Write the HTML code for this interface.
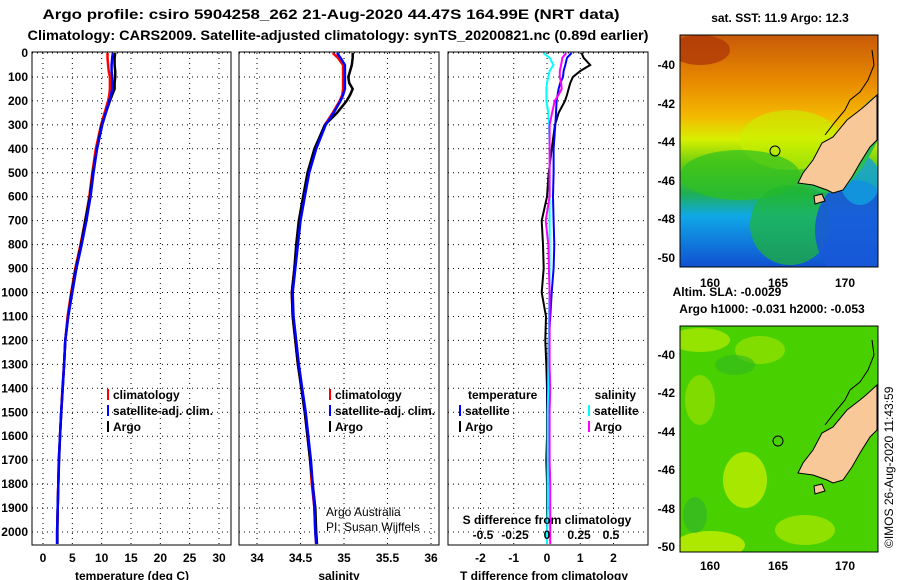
<!DOCTYPE html>
<html><head><meta charset="utf-8"><style>
html,body{margin:0;padding:0;background:#fff;}
svg{display:block;font-family:"Liberation Sans",sans-serif;font-weight:bold;}
</style></head><body>
<svg id="fig" width="900" height="580" viewBox="0 0 900 580">
<defs>
<linearGradient id="sstg" x1="0" y1="0" x2="0" y2="1">
<stop offset="0" stop-color="#c85a08"/><stop offset="0.2" stop-color="#e88a00"/><stop offset="0.35" stop-color="#f4b800"/>
<stop offset="0.45" stop-color="#d8f000"/><stop offset="0.55" stop-color="#70d010"/><stop offset="0.68" stop-color="#20b050"/>
<stop offset="0.78" stop-color="#10a8e8"/><stop offset="1" stop-color="#1050d0"/></linearGradient>
<clipPath id="c1"><rect x="680" y="35" width="198" height="232"/></clipPath>
<clipPath id="c2"><rect x="680" y="326" width="198" height="226"/></clipPath>
</defs>
<text x="331" y="19" text-anchor="middle" font-size="14" textLength="577" lengthAdjust="spacingAndGlyphs">Argo profile: csiro 5904258_262 21-Aug-2020 44.47S 164.99E (NRT data)</text>
<text x="338" y="40" text-anchor="middle" font-size="14" textLength="621" lengthAdjust="spacingAndGlyphs">Climatology: CARS2009. Satellite-adjusted climatology: synTS_20200821.nc (0.89d earlier)</text>
<g id="p1"></g>
<g id="p2"></g>
<g id="p3"></g>

<g>
<text x="780" y="22" text-anchor="middle" font-size="12">sat. SST: 11.9 Argo: 12.3</text>
<g clip-path="url(#c1)">
<rect x="680" y="35" width="198" height="232" fill="url(#sstg)"/>
<ellipse cx="700" cy="50" rx="30" ry="15" fill="#b03a08" opacity="0.8"/>
<ellipse cx="790" cy="140" rx="50" ry="30" fill="#c8f000" opacity="0.6"/>
<ellipse cx="740" cy="175" rx="60" ry="25" fill="#30c020" opacity="0.7"/>
<ellipse cx="790" cy="225" rx="40" ry="40" fill="#20b830" opacity="0.7"/>
<ellipse cx="855" cy="230" rx="40" ry="50" fill="#1858d8" opacity="0.9"/>
<ellipse cx="860" cy="180" rx="20" ry="25" fill="#10a0e0" opacity="0.8"/>
<polygon points="877,142 870,155 862,168 852,180 843,190 833,193 820,192 810,187 798,183 803,173 813,160 822,143 833,137 847,120 860,110 870,100 877,95" fill="#28c050" stroke="#000" stroke-width="0"/>
<polygon points="877,95 866,105 860,110 847,120 833,137 822,143 813,160 803,173 798,183 813,185 827,190 833,193 843,190 852,177 860,163 870,147 877,140" fill="#f8c898" stroke="#000" stroke-width="1"/>
<polyline points="872,50 874,65 868,80 860,92 850,100 845,110 835,122 825,135" fill="none" stroke="#000" stroke-width="1"/>
<polygon points="814,196 822,194 825,201 815,204" fill="#f8c898" stroke="#000" stroke-width="1"/>
</g>
<rect x="680" y="35" width="198" height="232" fill="none" stroke="#000"/>
<circle cx="775" cy="151" r="5" fill="none" stroke="#000"/>
<g font-size="12" text-anchor="end">
<text x="675" y="69">-40</text><text x="675" y="108">-42</text><text x="675" y="146">-44</text><text x="675" y="185">-46</text><text x="675" y="223">-48</text><text x="675" y="262">-50</text>
</g>
<g font-size="12" text-anchor="middle">
<text x="710" y="287">160</text><text x="778" y="287">165</text><text x="845" y="287">170</text>
</g>
<text x="727" y="296" text-anchor="middle" font-size="12">Altim. SLA: -0.0029</text>
<text x="772" y="313" text-anchor="middle" font-size="12">Argo h1000: -0.031 h2000: -0.053</text>
</g>

<g>
<g clip-path="url(#c2)">
<rect x="680" y="326" width="198" height="226" fill="#48d000"/>
<ellipse cx="700" cy="340" rx="30" ry="12" fill="#a8e800" opacity="0.8"/>
<ellipse cx="760" cy="350" rx="25" ry="14" fill="#90e000" opacity="0.8"/>
<ellipse cx="700" cy="400" rx="15" ry="25" fill="#98e000" opacity="0.7"/>
<ellipse cx="745" cy="480" rx="22" ry="28" fill="#c0ec00" opacity="0.8"/>
<ellipse cx="710" cy="545" rx="35" ry="14" fill="#c8ee00" opacity="0.8"/>
<ellipse cx="805" cy="530" rx="30" ry="15" fill="#b0e800" opacity="0.7"/>
<ellipse cx="735" cy="365" rx="20" ry="10" fill="#30b820" opacity="0.6"/>
<ellipse cx="695" cy="515" rx="12" ry="18" fill="#30b030" opacity="0.6"/>
<polygon points="877,385 866,395 860,400 847,410 833,427 822,433 813,450 803,463 798,473 813,475 827,480 833,483 843,480 852,467 860,453 870,437 877,430" fill="#f8c898" stroke="#000" stroke-width="1"/>
<polyline points="872,340 874,355 868,370 860,382 850,390 845,400 835,412 825,425" fill="none" stroke="#000" stroke-width="1"/>
<polygon points="814,486 822,484 825,491 815,494" fill="#f8c898" stroke="#000" stroke-width="1"/>
</g>
<rect x="680" y="326" width="198" height="226" fill="none" stroke="#000"/>
<circle cx="778" cy="441" r="5" fill="none" stroke="#000"/>
<g font-size="12" text-anchor="end">
<text x="675" y="359">-40</text><text x="675" y="397">-42</text><text x="675" y="436">-44</text><text x="675" y="474">-46</text><text x="675" y="513">-48</text><text x="675" y="551">-50</text>
</g>
<g font-size="12" text-anchor="middle">
<text x="710" y="570">160</text><text x="778" y="570">165</text><text x="845" y="570">170</text>
</g>
<text transform="translate(893,548) rotate(-90)" font-size="12" font-weight="normal">©IMOS 26-Aug-2020 11:43:59</text>
</g>
</svg>
<script>
const depths = [0,20,50,75,100,125,150,175,200,250,300,400,500,600,700,800,900,1000,1100,1200,1300,1400,1500,1600,1700,1800,1900,2000,2050];
const tempArgo = [12.3,12.2,12.2,12.3,12.3,12.2,12.2,11.8,11.4,10.7,10.0,9.2,8.5,8.0,7.2,6.5,5.6,4.9,4.3,3.8,3.6,3.35,3.1,2.9,2.75,2.6,2.5,2.45,2.45];
const tempClim = [11.0,11.0,11.1,11.2,11.4,11.4,11.4,11.3,11.1,10.5,9.9,9.0,8.4,7.9,7.2,6.4,5.5,4.8,4.2,3.8,3.6,3.3,3.1,2.9,2.7,2.6,2.5,2.4,2.4];
const tempSat = [11.9,11.8,11.7,11.7,11.8,11.8,11.8,11.6,11.3,10.7,10.1,9.2,8.6,8.1,7.4,6.6,5.7,5.0,4.3,3.8,3.6,3.35,3.1,2.9,2.7,2.6,2.5,2.4,2.4];
const salArgo = [35.10,35.10,35.09,35.07,35.05,35.06,35.10,35.07,35.03,34.92,34.78,34.66,34.58,34.53,34.48,34.45,34.43,34.40,34.41,34.44,34.47,34.51,34.55,34.58,34.61,34.64,34.67,34.68,34.69];
const salClim = [34.87,34.93,34.99,34.99,34.99,34.99,34.99,34.98,34.95,34.87,34.78,34.67,34.59,34.54,34.49,34.46,34.43,34.40,34.41,34.44,34.47,34.51,34.55,34.58,34.61,34.63,34.66,34.67,34.68];
const salSat = [34.92,34.96,35.01,35.01,35.01,35.01,35.01,34.99,34.96,34.88,34.79,34.68,34.60,34.55,34.50,34.47,34.44,34.41,34.42,34.45,34.48,34.52,34.56,34.59,34.62,34.64,34.66,34.67,34.68];
const dTArgo = [1.04,1.1,1.3,1.0,0.78,0.7,0.65,0.6,0.54,0.35,0.24,0.14,0.05,0.0,-0.16,-0.12,-0.1,-0.16,-0.03,-0.05,-0.02,0.0,0.0,0.0,-0.02,0.0,0.0,0.0,0.0];
const dTSat = [0.74,0.6,0.55,0.5,0.48,0.4,0.35,0.32,0.29,0.27,0.25,0.2,0.2,0.18,0.2,0.22,0.2,0.14,0.1,0.05,0.03,0.02,0.02,0.02,0.02,0.02,0.02,0.0,0.0];
const dSArgo = [0.15,0.12,0.11,0.10,0.10,0.11,0.115,0.09,0.06,0.04,0.02,0.02,0.02,0.02,-0.01,0.01,0.015,0.02,0.02,0.02,0.02,0.025,0.02,0.02,0.02,0.025,0.025,0.025,0.025];
const dSSat = [-0.03,0.02,0.05,0.02,0.01,0.0,-0.005,-0.005,-0.005,0.01,0.015,0.02,0.02,0.02,0.02,0.02,0.02,0.02,0.015,0.015,0.01,0.01,0.005,0.005,0.005,0.005,0.005,0.0,0.0];
const depthTicks = [0,100,200,300,400,500,600,700,800,900,1000,1100,1200,1300,1400,1500,1600,1700,1800,1900,2000];
const tempTicks = [0,5,10,15,20,25,30];
const salTicks = [34,34.5,35,35.5,36];
const dTTicks = [-2,-1,0,1,2];
const dSTicks = [-0.5,-0.25,0,0.25,0.5];

const NS='http://www.w3.org/2000/svg';
const top0=53, bot=545, yScale=(532-53)/2000;
const yD = d => top0 + d*yScale;
function mk(parent, tag, attrs){const e=document.createElementNS(NS,tag);for(const k in attrs)e.setAttribute(k,attrs[k]);parent.appendChild(e);return e;}
function txt(parent,x,y,s,anchor,size,weight){const t=mk(parent,'text',{x:x,y:y,'text-anchor':anchor||'start','font-size':size||12});if(weight)t.setAttribute('font-weight',weight);t.textContent=s;return t;}

function panel(g, x0, x1, xs, xticks, fmtTicks, showDepth){
  mk(g,'rect',{x:x0,y:top0-1,width:x1-x0,height:bot-top0+1,fill:'#fff',stroke:'#000','stroke-width':1});
  depthTicks.forEach(d=>{
    const l=mk(g,'line',{x1:x0,x2:x1,y1:yD(d),y2:yD(d),stroke:'#000','stroke-dasharray':'1,4'});
    
    
    if(showDepth){const t=txt(g,28,yD(d)+4,String(d),'end',12);
      
      }
  });
  xticks.forEach((v,i)=>{
    const X=xs(v);
    const l=mk(g,'line',{x1:X,x2:X,y1:top0,y2:bot,stroke:'#000','stroke-dasharray':'1,4'});
    
    
    if(fmtTicks){const t=txt(g,X,562,fmtTicks[i],'middle',12);
      
      }
  });
}
function line(g, vals, xs, color, w, name){
  const pts=vals.map((v,i)=>xs(v).toFixed(1)+','+yD(depths[i]).toFixed(1)).join(' ');
  const p=mk(g,'polyline',{points:pts,fill:'none',stroke:color,'stroke-width':w});
  
  
}
function legend(g,x,y,color,label){
  mk(g,'rect',{x:x,y:y-10,width:2,height:11,fill:color});
  const t=txt(g,x+6,y,label,'start',12);
  
  
}

const g1=document.getElementById('p1');
const xT=t=>43+t*(219-43)/30;
panel(g1,32,231,xT,tempTicks,tempTicks.map(String),true);
line(g1,tempClim,xT,'#f00',2.5,'temperature-climatology-line');
line(g1,tempArgo,xT,'#000',2.5,'temperature-argo-line');
line(g1,tempSat,xT,'#00f',2.5,'temperature-satellite-line');
legend(g1,107,399,'#f00','climatology');legend(g1,107,415,'#00f','satellite-adj. clim.');legend(g1,107,431,'#000','Argo');
txt(g1,132,580,'temperature (deg C)','middle',12);

const g2=document.getElementById('p2');
const xS=s=>257+(s-34)*87;
panel(g2,239,439,xS,salTicks,['34','34.5','35','35.5','36'],false);
line(g2,salClim,xS,'#f00',2.5,'salinity-climatology-line');
line(g2,salArgo,xS,'#000',2.5,'salinity-argo-line');
line(g2,salSat,xS,'#00f',2.5,'salinity-satellite-line');
legend(g2,329,399,'#f00','climatology');legend(g2,329,415,'#00f','satellite-adj. clim.');legend(g2,329,431,'#000','Argo');
txt(g2,339,580,'salinity','middle',12);
const c1=txt(g2,326,516,'Argo Australia','start',12,'normal');

const c2=txt(g2,326,531,'PI: Susan Wijffels','start',12,'normal');


const g3=document.getElementById('p3');
const xDT=v=>547+v*33.25;
const xDS=v=>547+v*128;
panel(g3,448,648,xDT,dTTicks,['-2','-1','0','1','2'],false);
line(g3,dTArgo,xDT,'#000',2,'tdiff-argo-line');
line(g3,dTSat,xDT,'#00f',2,'tdiff-satellite-line');
line(g3,dSSat,xDS,'#0ff',2,'sdiff-satellite-line');
line(g3,dSArgo,xDS,'#f0f',2,'sdiff-argo-line');
txt(g3,468,399,'temperature','start',12);
txt(g3,636,399,'salinity','end',12);
legend(g3,459,415,'#00f','satellite');legend(g3,459,431,'#000','Argo');
legend(g3,588,415,'#0ff','satellite');legend(g3,588,431,'#f0f','Argo');
txt(g3,547,524,'S difference from climatology','middle',12);
dSTicks.forEach(v=>{const t=txt(g3,xDS(v),539,String(v),'middle',12);
  
  });
txt(g3,544,580,'T difference from climatology','middle',12);
</script>
</body></html>
